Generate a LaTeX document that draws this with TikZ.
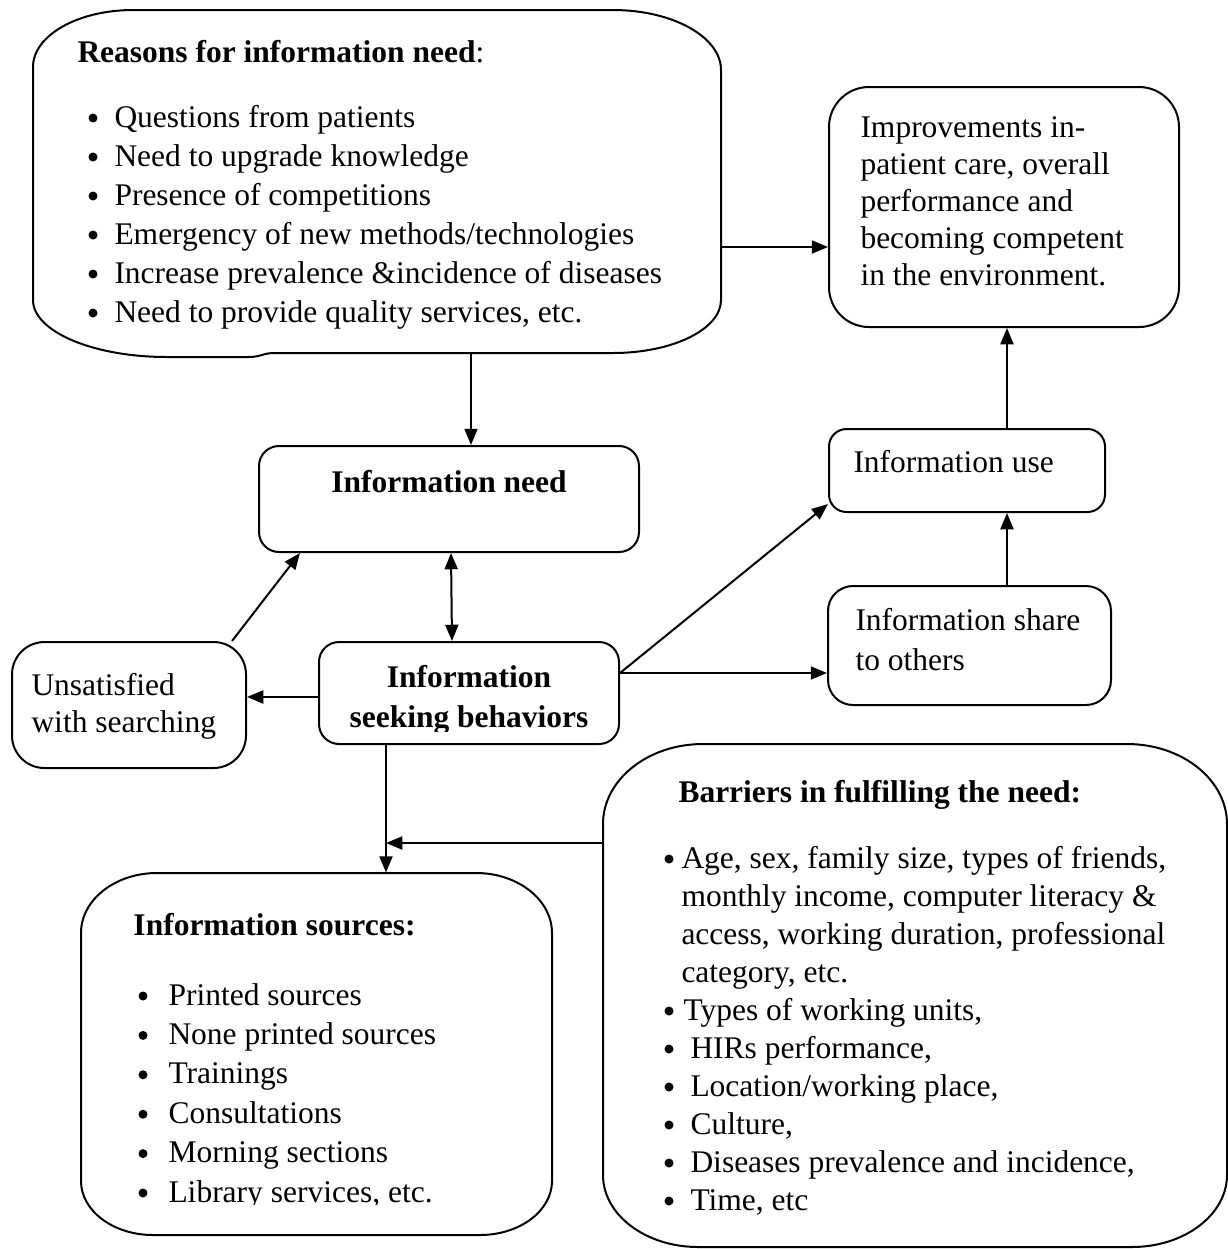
\documentclass[tikz,border=0pt]{standalone}
\usepackage{fontspec}
\setmainfont{Liberation Serif}
\usetikzlibrary{arrows.meta,fit}
\newcommand{\myebox}[8]{%
 \draw[boxline] ({#1+#5},#2) -- ({#3-#5},#2) .. controls ({#3-0.448*#5},#2) and (#3,{#2+0.448*#6}) .. (#3,{#2+#6})
 -- (#3,{#4-#8}) .. controls (#3,{#4-0.448*#8}) and ({#3-0.448*#7},#4) .. ({#3-#7},#4)
 -- ({#1+#7},#4) .. controls ({#1+0.448*#7},#4) and (#1,{#4-0.448*#8}) .. (#1,{#4-#8})
 -- (#1,{#2+#6}) .. controls (#1,{#2+0.448*#6}) and ({#1+0.448*#5},#2) .. ({#1+#5},#2) -- cycle;}
\tikzset{
 boxline/.style={line width=0.8pt},
 rbox/.style={draw, line width=0.8pt, inner sep=0pt},
 area/.style={inner sep=0pt},
 txt/.style={inner sep=0pt, anchor=base west, font=\fontsize{12.6}{15.6}\selectfont},
 btxt/.style={txt, font=\fontsize{12.6}{15.6}\selectfont\bfseries},
 bul/.style={circle, fill, inner sep=0pt, minimum size=3.6pt},
 arr/.style={line width=0.8pt, -{Triangle[length=6.5pt,width=5.2pt]}},
 darr/.style={line width=0.8pt, {Triangle[length=6.5pt,width=5.2pt]}-{Triangle[length=6.5pt,width=5.2pt]}},
}
\begin{document}
\begin{tikzpicture}[x=0.4pt,y=-0.4pt]
\useasboundingbox (0,0) rectangle (1228,1249);

% ---- Reasons box (wavy bottom)
\draw[boxline] (133,10) -- (613,10) .. controls ({721-0.448*108},10) and (721,{10+0.448*60}) .. (721,70)
 -- (721,300) .. controls (721,{353-0.448*53}) and ({721-0.448*108},353) .. (613,353)
 -- (275,353) .. controls (262,353) and (262,357) .. (248,357) -- (167,357)
 .. controls ({33+0.448*134},357) and (33,{357-0.448*57}) .. (33,300)
 -- (33,67) .. controls (33,{10+0.448*57}) and ({33+0.448*100},10) .. (133,10) -- cycle;
\node[area, fit={(33,10) (721,353)}] (box1) {};
\node[txt] (rtitle) at (77,62) {\textbf{Reasons for information need}:};
\foreach \t [count=\i] in {Questions from patients, Need to upgrade knowledge, Presence of competitions,
  Emergency of new methods/technologies, Increase prevalence \&incidence of diseases,
  {Need to provide quality services, etc.}}{
  \node[bul] (rb\i) at (93,{127+39*(\i-1)-9}) {};
  \node[txt] (r\i) at (114,{127+39*(\i-1)}) {\t};
}

% ---- Improvements
\node[rbox, rounded corners=16pt, fit={(829,87) (1179,327)}] (improve) {};
\foreach \t [count=\i] in {Improvements in-, {patient care, overall}, performance and, becoming competent, in the environment.}{
  \node[txt] (imp\i) at (860,{137+37*(\i-1)}) {\t};
}

% ---- Information use
\node[rbox, rounded corners=7pt, fit={(829,429) (1105,512)}] (use) {};
\node[txt] (usetxt) at (853,472) {Information use};

% ---- Information share
\node[rbox, rounded corners=10pt, fit={(828,586) (1111,705)}] (share) {};
\node[txt] (share1) at (855,630) {Information share};
\node[txt] (share2) at (855,670) {to others};

% ---- Information need
\node[rbox, rounded corners=8pt, fit={(259,446) (639,552)}] (need) {};
\node[btxt, anchor=base] (needtxt) at (449,492) {Information need};

% ---- Information seeking behaviors
\node[rbox, rounded corners=8pt, fit={(319,642) (619,744)}] (seek) {};
\begin{scope}
\clip (319,642) rectangle (619,731);
\node[btxt, anchor=base] (seek1) at (469,687) {Information};
\node[btxt, anchor=base] (seek2) at (469,727) {seeking behaviors};
\end{scope}

% ---- Unsatisfied
\node[rbox, rounded corners=13pt, fit={(12,642) (246,768)}] (unsat) {};
\node[txt] (uns1) at (31,695) {Unsatisfied};
\node[txt] (uns2) at (31,732) {with searching};

% ---- Information sources
\myebox{81}{873}{552}{1235}{76}{60}{72}{54}
\node[area, fit={(81,873) (552,1235)}] (src) {};
\node[btxt] (srctitle) at (133,935) {Information sources:};
\foreach \t [count=\i] in {Printed sources, None printed sources, Trainings, Consultations, Morning sections}{
  \node[bul] (sb\i) at (143,{1005+39.4*(\i-1)-9}) {};
  \node[txt] (s\i) at (168,{1005+39.4*(\i-1)}) {\t};
}
\node[bul] (sb6) at (143,1193) {};
\begin{scope}
\clip (160,1150) rectangle (552,1204);
\node[txt] (s6) at (168,1202) {Library services, etc.};
\end{scope}

% ---- Barriers
\myebox{603}{744}{1227}{1247}{100}{80}{95}{72}
\node[area, fit={(603,744) (1227,1247)}] (barriers) {};
\node[btxt] (bartitle) at (678,802) {Barriers in fulfilling the need:};
\node[bul] (bb1) at (669,859) {};
\node[txt] (b1) at (681,868) {Age, sex, family size, types of friends,};
\node[txt] (b1b) at (681,906) {monthly income, computer literacy \&};
\node[txt] (b1c) at (681,944) {access, working duration, professional};
\node[txt] (b1d) at (681,982) {category, etc.};
\node[bul] (bb2) at (669,1011) {};
\node[txt] (b2) at (683,1020) {Types of working units,};
\foreach \t [count=\i from 3] in {{HIRs performance,}, {Location/working place,}, {Culture,}, {Diseases prevalence and incidence,}, {Time, etc}}{
  \node[bul] (bb\i) at (669,{1058+38*(\i-3)-9}) {};
  \node[txt] (b\i) at (690,{1058+38*(\i-3)}) {\t};
}

% ---- connectors
\coordinate (join) at (386,843);
\draw[arr] (box1.east |- 0,247) -- (improve.west |- 0,247);
\draw[arr] (471,0 |- box1.south) -- (471,0 |- need.north);
\draw[darr] (451,0 |- need.south) -- (452,0 |- seek.north);
\draw[arr] (232,0 |- unsat.north) -- (300,0 |- need.south);
\draw[arr] (seek.west |- 0,697) -- (unsat.east |- 0,697);
\draw[arr] (seek.east |- 0,673) -- (use.west |- 0,504);
\draw[arr] (seek.east |- 0,673) -- (share.west |- 0,673);
\draw[arr] (1007,0 |- share.north) -- (1007,0 |- use.south);
\draw[arr] (1007,0 |- use.north) -- (1007,0 |- improve.south);
\draw[arr] (386,0 |- seek.south) -- (386,0 |- src.north);
\draw[arr] (barriers.west |- join) -- (join);
\end{tikzpicture}
\end{document}
